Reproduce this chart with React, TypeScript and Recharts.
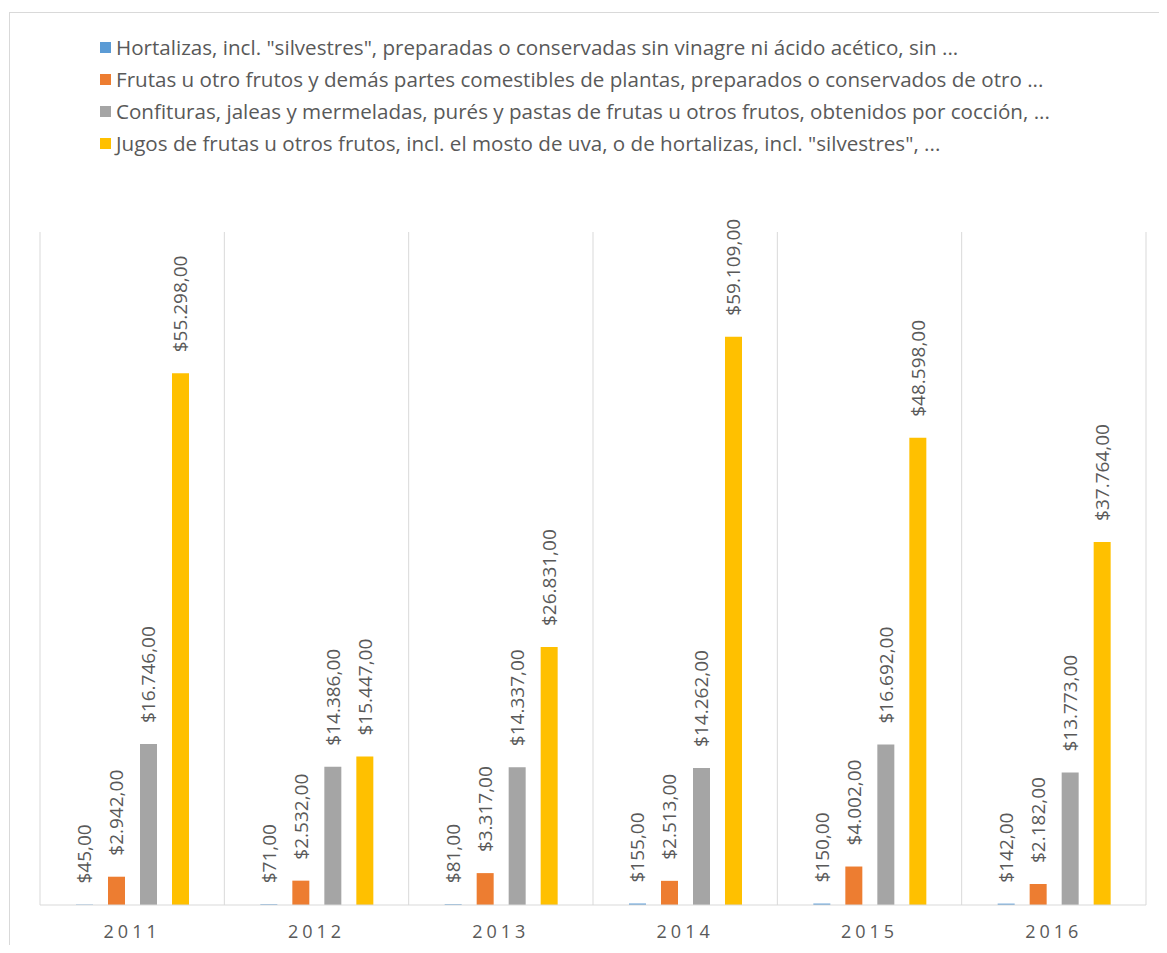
import { BarChart, Bar, XAxis, YAxis, CartesianGrid, LabelList } from 'recharts'

const years = ['2011', '2012', '2013', '2014', '2015', '2016']
const hortalizas = [45, 71, 81, 155, 150, 142]
const frutas = [2942, 2532, 3317, 2513, 4002, 2182]
const confituras = [16746, 14386, 14337, 14262, 16692, 13773]
const jugos = [55298, 15447, 26831, 59109, 48598, 37764]

const seriesNames = [
  'Hortalizas, incl. "silvestres", preparadas o conservadas sin vinagre ni ácido acético, sin ...',
  'Frutas u otro frutos y demás partes comestibles de plantas, preparados o conservados de otro ...',
  'Confituras, jaleas y mermeladas, purés y pastas de frutas u otros frutos, obtenidos por cocción, ...',
  'Jugos de frutas u otros frutos, incl. el mosto de uva, o de hortalizas, incl. "silvestres", ...',
]
const seriesColors = ['#5B9BD5', '#ED7D31', '#A5A5A5', '#FFC000']

const data = years.map((year, i) => ({
  year,
  s0: hortalizas[i],
  s1: frutas[i],
  s2: confituras[i],
  s3: jugos[i],
}))

const FONT = '"Open Sans", "Noto Sans", sans-serif'
const TEXT = '#595959'

const fmt = (v: number) => '$' + String(v).replace(/\B(?=(\d{3})+(?!\d))/g, '.') + ',00'

// rotated value label sitting above each bar
const renderLabel = (props: any) => {
  const { x, y, width, value } = props
  const cx = x + width / 2
  const ty = y - 21
  return (
    <text
      x={cx}
      y={ty}
      transform={`rotate(-90 ${cx} ${ty})`}
      textAnchor="start"
      dominantBaseline="central"
      fill={TEXT}
      fontSize={19}
      fontFamily={FONT}
    >
      {fmt(value)}
    </text>
  )
}

export default function App() {
  return (
    <div
      style={{
        position: 'relative',
        marginLeft: 1,
        marginTop: 4,
        width: 1158,
        height: 933,
        boxSizing: 'border-box',
        borderLeft: '1px solid #d9d9d9',
        borderTop: '1px solid #d9d9d9',
        background: '#fff',
        overflow: 'hidden',
      }}
    >
      <div style={{ position: 'absolute', left: 90, top: 18, fontFamily: FONT, fontSize: 20.6, color: TEXT }}>
        {seriesNames.map((name, i) => (
          <div key={name} style={{ display: 'flex', alignItems: 'center', height: 32, whiteSpace: 'nowrap' }}>
            <svg width={16} height={11} style={{ flexShrink: 0 }}>
              <rect x={0} y={0} width={11} height={11} fill={seriesColors[i]} />
            </svg>
            <span>{name}</span>
          </div>
        ))}
      </div>
      <BarChart
        width={1157}
        height={932}
        data={data}
        margin={{ top: 219, right: 21, left: 30, bottom: 0 }}
        barSize={17}
        barGap={15}
      >
        <CartesianGrid
          horizontal={false}
          stroke="#d9d9d9"
          verticalCoordinatesGenerator={({ offset }: any) =>
            years.map((_, i) => offset.left + (i * offset.width) / years.length).concat(offset.left + offset.width)
          }
        />
        <XAxis
          dataKey="year"
          height={40}
          tickLine={false}
          axisLine={{ stroke: '#d9d9d9' }}
          tickMargin={14}
          tick={{ fill: TEXT, fontSize: 18, fontFamily: FONT, letterSpacing: 4 }}
        />
        <YAxis hide domain={[0, 70000]} />
        {['s0', 's1', 's2', 's3'].map((key, i) => (
          <Bar key={key} dataKey={key} fill={seriesColors[i]} isAnimationActive={false}>
            <LabelList dataKey={key} content={renderLabel} />
          </Bar>
        ))}
      </BarChart>
    </div>
  )
}
